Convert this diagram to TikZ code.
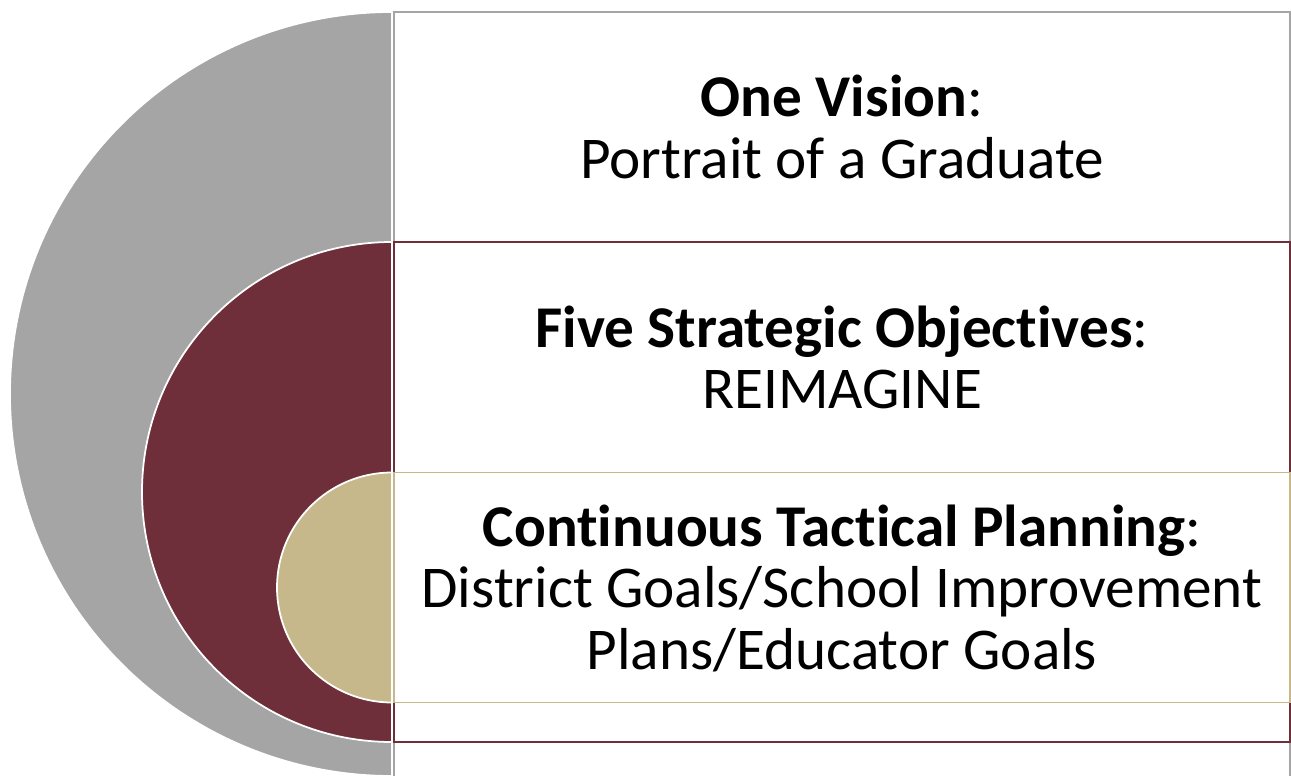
\documentclass[tikz,border=0pt]{standalone}
\usepackage{fontspec}
\setmainfont{Carlito}[Ligatures=NoCommon]
\usepackage[dvipsnames]{xcolor}
\definecolor{ringgray}{RGB}{165,165,165}
\definecolor{ringmaroon}{RGB}{110,47,58}
\definecolor{ringtan}{RGB}{199,184,140}

\begin{document}
\begin{tikzpicture}[x=0.02cm,y=0.02cm,line width=1pt,
    ring/.style={draw=white},
    band/.style={fill=white},
    label node/.style={align=center,text=black,font=\fontsize{33.7}{35}\selectfont}]
                \clip (0,0) rectangle (1291,775);
                \useasboundingbox (0,0) rectangle (1291,775);

                % outer: gray
                \path[band,draw=ringgray] (394,763) rectangle (1290,-2);
                \path[ring,fill=ringgray] (392,763) arc[start angle=90,end angle=270,radius=382] -- cycle;
                % middle: maroon
                \path[band,draw=ringmaroon] (394,533) rectangle (1290,33);
                \path[ring,fill=ringmaroon] (392,533) arc[start angle=90,end angle=270,radius=250] -- cycle;
                % inner: tan
                \path[band,draw=ringtan] (394,302.5) rectangle (1290,72.5);
                \path[ring,fill=ringtan] (392,302.5) arc[start angle=90,end angle=270,radius=115] -- cycle;

                \node[label node] (vision) at (842,648) {\textbf{One Vision}:\\Portrait of a Graduate};
                \node[label node] (objectives) at (842,417.5) {\textbf{Five Strategic Objectives}:\\REIMAGINE};
                \node[label node] (planning) at (842,187) {\textbf{Continuous Tactical Planning}:\\District Goals/School Improvement\\Plans/Educator Goals};

\end{tikzpicture}
\end{document}
